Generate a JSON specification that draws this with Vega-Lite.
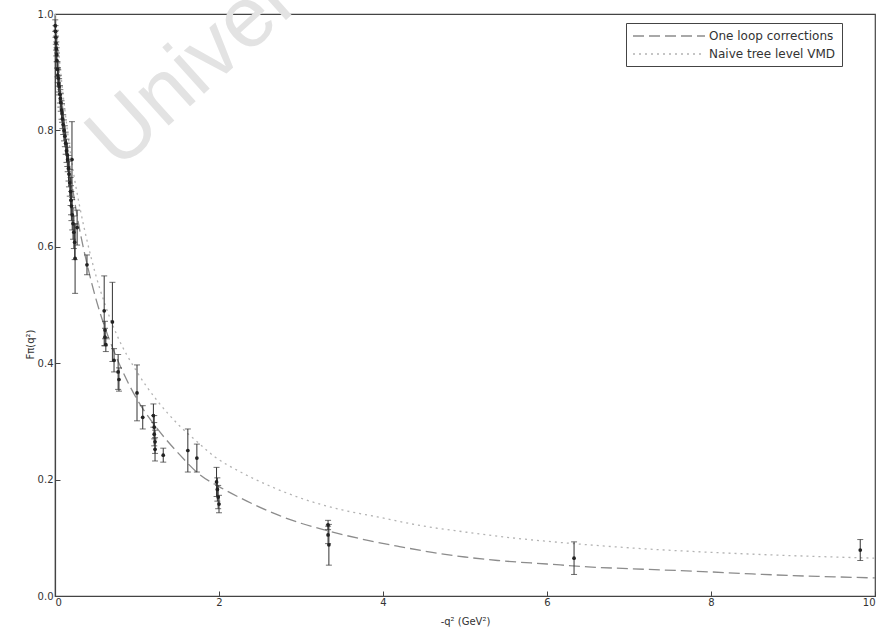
{
  "$schema": "https://vega.github.io/schema/vega-lite/v6.json",
  "width": 820,
  "height": 582,
  "autosize": {"type": "none"},
  "padding": {"left": 55, "top": 14, "right": 2, "bottom": 31},
  "background": "white",
  "config": {
    "font": "DejaVu Sans",
    "view": {"stroke": "#444", "strokeWidth": 1.2}
  },
  "datasets": {
    "measurements": [
      {"q2": 0.003, "f": 0.98, "err": 0.01},
      {"q2": 0.006, "f": 0.97, "err": 0.01},
      {"q2": 0.01, "f": 0.96, "err": 0.012},
      {"q2": 0.013, "f": 0.95, "err": 0.012},
      {"q2": 0.016, "f": 0.94, "err": 0.012},
      {"q2": 0.02, "f": 0.93, "err": 0.012},
      {"q2": 0.024, "f": 0.92, "err": 0.013},
      {"q2": 0.03, "f": 0.905, "err": 0.013},
      {"q2": 0.035, "f": 0.895, "err": 0.013},
      {"q2": 0.04, "f": 0.89, "err": 0.014},
      {"q2": 0.045, "f": 0.88, "err": 0.014},
      {"q2": 0.05, "f": 0.875, "err": 0.014},
      {"q2": 0.06, "f": 0.862, "err": 0.015},
      {"q2": 0.065, "f": 0.855, "err": 0.015},
      {"q2": 0.07, "f": 0.848, "err": 0.015},
      {"q2": 0.08, "f": 0.835, "err": 0.016},
      {"q2": 0.085, "f": 0.83, "err": 0.016},
      {"q2": 0.09, "f": 0.82, "err": 0.017},
      {"q2": 0.1, "f": 0.81, "err": 0.017},
      {"q2": 0.11, "f": 0.8, "err": 0.018},
      {"q2": 0.12, "f": 0.79, "err": 0.018},
      {"q2": 0.13, "f": 0.778, "err": 0.019},
      {"q2": 0.14, "f": 0.765, "err": 0.02},
      {"q2": 0.15, "f": 0.758, "err": 0.02},
      {"q2": 0.155, "f": 0.75, "err": 0.021},
      {"q2": 0.165, "f": 0.735, "err": 0.022},
      {"q2": 0.17, "f": 0.725, "err": 0.022},
      {"q2": 0.18, "f": 0.71, "err": 0.023},
      {"q2": 0.19, "f": 0.695, "err": 0.024},
      {"q2": 0.195, "f": 0.68, "err": 0.025},
      {"q2": 0.2, "f": 0.67, "err": 0.025},
      {"q2": 0.21, "f": 0.655, "err": 0.026},
      {"q2": 0.22, "f": 0.64, "err": 0.027},
      {"q2": 0.23, "f": 0.625, "err": 0.028},
      {"q2": 0.24, "f": 0.608, "err": 0.03},
      {"q2": 0.207, "f": 0.75, "err": 0.065},
      {"q2": 0.27, "f": 0.633, "err": 0.03},
      {"q2": 0.245, "f": 0.58, "err": 0.06},
      {"q2": 0.39, "f": 0.569, "err": 0.017},
      {"q2": 0.6, "f": 0.49, "err": 0.06},
      {"q2": 0.61, "f": 0.457, "err": 0.015},
      {"q2": 0.61, "f": 0.445, "err": 0.015},
      {"q2": 0.62, "f": 0.432, "err": 0.012},
      {"q2": 0.7, "f": 0.471, "err": 0.068},
      {"q2": 0.72, "f": 0.405, "err": 0.02},
      {"q2": 0.77, "f": 0.385, "err": 0.03},
      {"q2": 0.78, "f": 0.372, "err": 0.02},
      {"q2": 1.0, "f": 0.349, "err": 0.048},
      {"q2": 1.07, "f": 0.307, "err": 0.02},
      {"q2": 1.2, "f": 0.31, "err": 0.02},
      {"q2": 1.21, "f": 0.29, "err": 0.02},
      {"q2": 1.21, "f": 0.278, "err": 0.02},
      {"q2": 1.22, "f": 0.265, "err": 0.02},
      {"q2": 1.22, "f": 0.252, "err": 0.02},
      {"q2": 1.32, "f": 0.242, "err": 0.012},
      {"q2": 1.62, "f": 0.25, "err": 0.037},
      {"q2": 1.73, "f": 0.237, "err": 0.024},
      {"q2": 1.97, "f": 0.196, "err": 0.025},
      {"q2": 1.98, "f": 0.183, "err": 0.02},
      {"q2": 1.99, "f": 0.17, "err": 0.02},
      {"q2": 2.0, "f": 0.158, "err": 0.015},
      {"q2": 3.33, "f": 0.122, "err": 0.008},
      {"q2": 3.33, "f": 0.105, "err": 0.015},
      {"q2": 3.34, "f": 0.088, "err": 0.035},
      {"q2": 6.33, "f": 0.065, "err": 0.028},
      {"q2": 9.82, "f": 0.079, "err": 0.018}
    ],
    "curves": [
      {"series": "One loop corrections", "q2": 0.0, "f": 1.0},
      {"series": "One loop corrections", "q2": 0.05, "f": 0.9},
      {"series": "One loop corrections", "q2": 0.1, "f": 0.83},
      {"series": "One loop corrections", "q2": 0.15, "f": 0.77},
      {"series": "One loop corrections", "q2": 0.2, "f": 0.715},
      {"series": "One loop corrections", "q2": 0.3, "f": 0.63},
      {"series": "One loop corrections", "q2": 0.4, "f": 0.565},
      {"series": "One loop corrections", "q2": 0.5, "f": 0.51},
      {"series": "One loop corrections", "q2": 0.6, "f": 0.465},
      {"series": "One loop corrections", "q2": 0.75, "f": 0.41},
      {"series": "One loop corrections", "q2": 1.0, "f": 0.338},
      {"series": "One loop corrections", "q2": 1.25, "f": 0.287},
      {"series": "One loop corrections", "q2": 1.5, "f": 0.246},
      {"series": "One loop corrections", "q2": 1.77, "f": 0.208},
      {"series": "One loop corrections", "q2": 2.0, "f": 0.188},
      {"series": "One loop corrections", "q2": 2.34, "f": 0.163},
      {"series": "One loop corrections", "q2": 2.74, "f": 0.138},
      {"series": "One loop corrections", "q2": 3.0, "f": 0.125},
      {"series": "One loop corrections", "q2": 3.3, "f": 0.113},
      {"series": "One loop corrections", "q2": 3.8, "f": 0.096},
      {"series": "One loop corrections", "q2": 4.2, "f": 0.085},
      {"series": "One loop corrections", "q2": 4.6, "f": 0.075},
      {"series": "One loop corrections", "q2": 5.0, "f": 0.067},
      {"series": "One loop corrections", "q2": 5.4, "f": 0.061},
      {"series": "One loop corrections", "q2": 6.0, "f": 0.055},
      {"series": "One loop corrections", "q2": 6.5, "f": 0.05},
      {"series": "One loop corrections", "q2": 7.0, "f": 0.047},
      {"series": "One loop corrections", "q2": 7.9, "f": 0.042},
      {"series": "One loop corrections", "q2": 8.5, "f": 0.038},
      {"series": "One loop corrections", "q2": 9.0, "f": 0.035},
      {"series": "One loop corrections", "q2": 9.5, "f": 0.033},
      {"series": "One loop corrections", "q2": 10.0, "f": 0.031},
      {"series": "Naive tree level VMD", "q2": 0.0, "f": 1.0},
      {"series": "Naive tree level VMD", "q2": 0.1, "f": 0.86},
      {"series": "Naive tree level VMD", "q2": 0.2, "f": 0.75},
      {"series": "Naive tree level VMD", "q2": 0.3, "f": 0.67},
      {"series": "Naive tree level VMD", "q2": 0.4, "f": 0.605},
      {"series": "Naive tree level VMD", "q2": 0.5, "f": 0.55},
      {"series": "Naive tree level VMD", "q2": 0.6, "f": 0.505},
      {"series": "Naive tree level VMD", "q2": 0.75, "f": 0.45},
      {"series": "Naive tree level VMD", "q2": 1.0, "f": 0.385},
      {"series": "Naive tree level VMD", "q2": 1.25, "f": 0.335},
      {"series": "Naive tree level VMD", "q2": 1.5, "f": 0.295},
      {"series": "Naive tree level VMD", "q2": 1.75, "f": 0.263},
      {"series": "Naive tree level VMD", "q2": 1.95, "f": 0.239},
      {"series": "Naive tree level VMD", "q2": 2.25, "f": 0.214},
      {"series": "Naive tree level VMD", "q2": 2.62, "f": 0.189},
      {"series": "Naive tree level VMD", "q2": 3.0, "f": 0.168},
      {"series": "Naive tree level VMD", "q2": 3.5, "f": 0.148},
      {"series": "Naive tree level VMD", "q2": 3.93, "f": 0.136},
      {"series": "Naive tree level VMD", "q2": 4.5, "f": 0.12},
      {"series": "Naive tree level VMD", "q2": 5.0, "f": 0.11},
      {"series": "Naive tree level VMD", "q2": 5.5, "f": 0.101},
      {"series": "Naive tree level VMD", "q2": 6.0, "f": 0.094},
      {"series": "Naive tree level VMD", "q2": 6.5, "f": 0.088},
      {"series": "Naive tree level VMD", "q2": 7.2, "f": 0.081},
      {"series": "Naive tree level VMD", "q2": 8.0, "f": 0.075},
      {"series": "Naive tree level VMD", "q2": 8.85, "f": 0.07},
      {"series": "Naive tree level VMD", "q2": 9.5, "f": 0.067},
      {"series": "Naive tree level VMD", "q2": 10.0, "f": 0.065}
    ],
    "watermark": [
      {"q2": 0.77, "f": 0.73, "text": "University"}
    ]
  },
  "encoding": {
    "x": {
      "field": "q2",
      "type": "quantitative",
      "scale": {"domain": [0, 10], "nice": false, "zero": false},
      "axis": {
        "title": "-q² (GeV²)",
        "values": [0, 2, 4, 6, 8, 10],
        "format": "d",
        "grid": false,
        "domainColor": "#444",
        "domainWidth": 1.2,
        "tickColor": "#444",
        "tickSize": -5,
        "labelPadding": 6,
        "labelFontSize": 10,
        "labelColor": "#333",
        "titleFontSize": 10,
        "titleFontWeight": "normal",
        "titleColor": "#333",
        "titlePadding": 9
      }
    },
    "y": {
      "field": "f",
      "type": "quantitative",
      "scale": {"domain": [0, 1], "nice": false, "zero": false},
      "axis": {
        "title": "Fπ(q²)",
        "values": [0, 0.2, 0.4, 0.6, 0.8, 1.0],
        "format": ".1f",
        "grid": false,
        "domainColor": "#444",
        "domainWidth": 1.2,
        "tickColor": "#444",
        "tickSize": -5,
        "labelPadding": 7,
        "labelFontSize": 10,
        "labelColor": "#333",
        "titleFontSize": 10,
        "titleFontWeight": "normal",
        "titleColor": "#333",
        "titleX": -20,
        "titleY": 330
      }
    }
  },
  "layer": [
    {
      "data": {"name": "watermark"},
      "mark": {
        "type": "text",
        "angle": -42,
        "fontSize": 86,
        "align": "left",
        "baseline": "alphabetic",
        "color": "#e3e3e3",
        "font": "Liberation Sans"
      },
      "encoding": {"text": {"field": "text"}}
    },
    {
      "data": {"name": "curves"},
      "mark": {"type": "line", "strokeWidth": 1.3, "interpolate": "monotone"},
      "encoding": {
        "color": {
          "field": "series",
          "type": "nominal",
          "scale": {
            "domain": ["One loop corrections", "Naive tree level VMD"],
            "range": ["#8c8c8c", "#b3b3b3"]
          },
          "legend": {
            "title": null,
            "orient": "none",
            "legendX": 571,
            "legendY": 9,
            "padding": 6,
            "strokeColor": "#444",
            "fillColor": "white",
            "symbolType": "M-1,0H11",
            "symbolSize": 144,
            "symbolStrokeWidth": 1.3,
            "labelOffset": 63,
            "labelFontSize": 12,
            "labelColor": "#333",
            "rowPadding": 5
          }
        },
        "strokeDash": {
          "field": "series",
          "type": "nominal",
          "scale": {
            "domain": ["One loop corrections", "Naive tree level VMD"],
            "range": [[11, 5], [2, 4]]
          },
          "legend": {
            "title": null,
            "orient": "none",
            "legendX": 571,
            "legendY": 9,
            "padding": 6,
            "strokeColor": "#444",
            "fillColor": "white",
            "symbolType": "M-1,0H11",
            "symbolSize": 144,
            "symbolStrokeWidth": 1.3,
            "labelOffset": 63,
            "labelFontSize": 12,
            "labelColor": "#333",
            "rowPadding": 5
          }
        }
      }
    },
    {
      "data": {"name": "measurements"},
      "mark": {
        "type": "errorbar",
        "ticks": {"size": 6, "color": "#333"},
        "rule": {"color": "#333", "strokeWidth": 1}
      },
      "encoding": {
        "yError": {"field": "err"}
      }
    },
    {
      "data": {"name": "measurements"},
      "mark": {"type": "point", "filled": true, "size": 14, "color": "#222", "opacity": 1}
    }
  ]
}
